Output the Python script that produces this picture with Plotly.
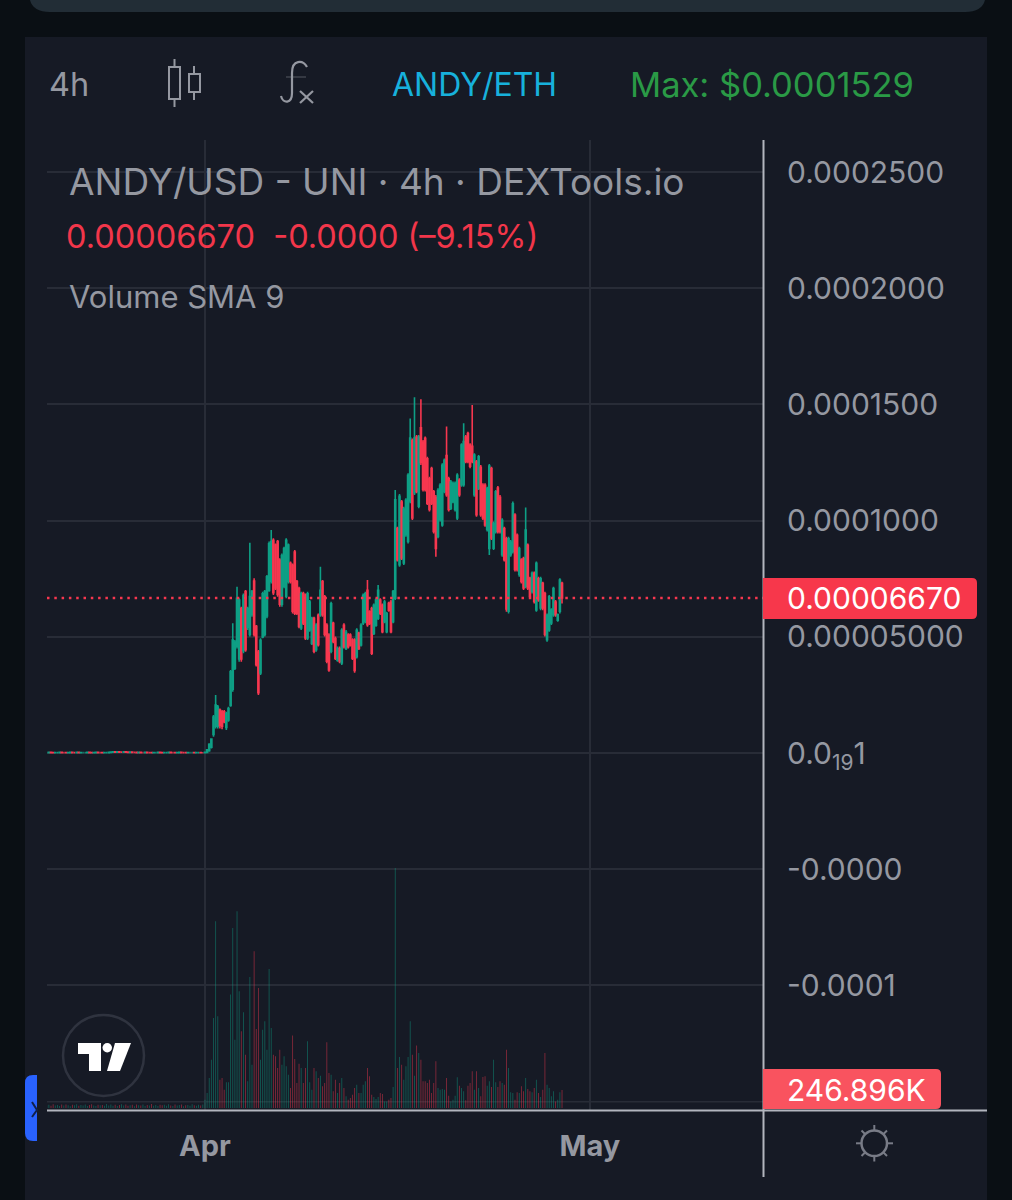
import pandas as pd
import plotly.graph_objects as go

# prices are in units of 0.00001 USD, volumes in thousands
pre_open = [0.02, 0.02, 0.03, 0.02, 0.01, 0.02, 0.02, 0.03, 0.02, 0.02, 0.01, 0.02, 0.03, 0.02, 0.02,
            0.03, 0.01, 0.02, 0.02, 0.02, 0.03, 0.02, 0.01, 0.02, 0.03, 0.02, 0.02, 0.01, 0.02, 0.02,
            0.03, 0.04, 0.05, 0.04, 0.05, 0.04, 0.04, 0.05, 0.04, 0.03, 0.04, 0.03, 0.03, 0.02, 0.03,
            0.02, 0.02, 0.03, 0.02, 0.02, 0.01, 0.02, 0.02, 0.03, 0.02, 0.01, 0.02, 0.02, 0.03, 0.02,
            0.02, 0.01, 0.02, 0.03, 0.02, 0.02, 0.01, 0.02, 0.02, 0.02, 0.01, 0.02, 0.02, 0.01]
pre_close = [0.02, 0.03, 0.02, 0.01, 0.02, 0.02, 0.03, 0.02, 0.02, 0.01, 0.02, 0.03, 0.02, 0.02, 0.03,
             0.01, 0.02, 0.02, 0.02, 0.03, 0.02, 0.01, 0.02, 0.03, 0.02, 0.02, 0.01, 0.02, 0.02, 0.03,
             0.04, 0.05, 0.04, 0.05, 0.04, 0.04, 0.05, 0.04, 0.03, 0.04, 0.03, 0.03, 0.02, 0.03, 0.02,
             0.02, 0.03, 0.02, 0.02, 0.01, 0.02, 0.02, 0.03, 0.02, 0.01, 0.02, 0.02, 0.03, 0.02, 0.02,
             0.01, 0.02, 0.03, 0.02, 0.02, 0.01, 0.02, 0.02, 0.02, 0.01, 0.02, 0.02, 0.01, 0.01]
pre_volume = [38, 44, 30, 52, 36, 41, 28, 47, 33, 50, 39, 26, 45, 37, 53, 31, 42, 35, 48, 29,
              40, 51, 34, 27, 46, 38, 43, 30, 55, 36, 49, 32, 44, 28, 41, 52, 35, 47, 30, 39,
              45, 26, 50, 37, 33, 48, 29, 42, 36, 54, 31, 40, 27, 46, 38, 44, 30, 51, 35, 28,
              47, 33, 41, 49, 26, 37, 43, 32, 52, 39, 30, 45, 36, 48]

opens = [0.01, 0.03, 0.10, 0.25, 0.80, 1.15, 1.15, 1.85, 1.78, 1.78, 1.10, 1.42, 2.05, 2.75, 3.65, 4.60,
         4.05, 6.22, 4.40, 6.95, 5.40, 5.10, 5.95, 7.40, 5.45, 4.35, 3.45, 5.00, 5.10, 5.90, 7.00, 7.40,
         9.15, 8.95, 9.10, 8.30, 6.40, 7.18, 6.75, 7.38, 8.16, 8.08, 8.65, 7.38, 7.08, 5.38, 6.86, 6.80,
         4.95, 5.30, 4.72, 5.80, 4.45, 5.93, 5.95, 7.38, 6.72, 5.50, 5.08, 4.38, 5.58, 4.93, 4.00, 4.50,
         3.88, 5.50, 4.50, 5.08, 5.08, 4.86, 4.86, 4.15, 5.15, 4.65, 5.60, 5.66, 7.00, 6.08, 6.22, 5.15,
         5.50, 5.80, 6.58, 6.36, 5.65, 5.22, 6.44, 6.50, 5.65, 6.66, 9.66, 8.10, 10.80, 8.18, 9.40, 9.10,
         10.85, 13.45, 11.20, 13.60, 10.62, 14.00, 13.38, 13.54, 12.66, 11.80, 12.24, 11.24, 11.00, 9.32,
         10.05, 9.82, 11.26, 12.80, 11.80, 10.54, 10.82, 10.48, 10.12, 11.74, 11.55, 11.55, 13.60, 13.75,
         13.25, 13.20, 11.12, 12.52, 11.40, 12.30, 11.52, 11.52, 9.62, 8.80, 12.24, 8.82, 9.54, 11.40,
         11.00, 8.54, 9.66, 9.22, 6.10, 8.54, 8.68, 10.24, 9.37, 7.68, 8.30, 8.37, 7.18, 8.94, 7.52, 6.95,
         7.73, 6.16, 7.50, 6.24, 7.30, 6.86, 4.88, 5.30, 5.60, 5.95, 6.50, 5.72, 6.10, 7.30]
highs = [0.04, 0.16, 0.42, 0.63, 1.64, 2.50, 2.07, 1.92, 1.85, 1.85, 1.78, 1.99, 3.57, 5.58, 4.86, 7.16,
         6.66, 6.30, 6.87, 7.02, 6.30, 9.05, 7.02, 7.52, 5.51, 4.43, 4.94, 6.94, 7.02, 7.66, 9.10, 9.60,
         9.24, 9.02, 9.17, 8.38, 8.59, 8.88, 9.24, 9.02, 8.24, 8.16, 8.74, 7.45, 7.16, 6.94, 6.94, 6.87,
         6.94, 6.59, 5.87, 5.87, 5.58, 6.01, 8.02, 7.45, 6.80, 5.58, 5.15, 6.51, 5.65, 5.01, 4.58, 4.58,
         5.37, 5.58, 5.29, 5.15, 5.15, 4.94, 4.94, 5.37, 5.22, 5.58, 6.87, 6.94, 7.45, 6.15, 6.30, 6.44,
         6.66, 7.23, 6.66, 6.44, 6.59, 6.08, 6.51, 6.59, 7.02, 11.32, 9.74, 11.15, 10.89, 10.60, 10.96, 12.04,
         14.40, 13.54, 15.31, 13.69, 13.69, 15.22, 13.47, 13.62, 12.75, 11.89, 12.32, 11.32, 11.10, 11.39,
         11.61, 12.47, 12.68, 14.05, 11.89, 11.75, 11.68, 11.68, 12.04, 11.82, 13.33, 14.19, 13.69, 13.83,
         13.33, 14.98, 12.90, 12.61, 12.83, 12.40, 11.61, 11.61, 11.46, 12.44, 12.32, 9.96, 11.32, 11.49,
         11.10, 10.10, 9.74, 9.31, 9.31, 9.17, 10.82, 10.32, 9.45, 8.88, 8.38, 8.45, 10.57, 9.02, 7.59, 7.81,
         7.81, 8.24, 7.59, 7.59, 7.37, 6.94, 6.01, 6.80, 6.23, 7.16, 6.59, 6.01, 7.52, 7.37]
lows = [0.00, 0.01, 0.06, 0.20, 0.70, 1.06, 1.06, 1.06, 1.02, 1.28, 0.99, 1.35, 1.99, 2.64, 3.57, 4.50,
        3.93, 3.93, 4.29, 4.36, 5.29, 5.01, 5.87, 5.01, 3.72, 2.50, 3.36, 4.94, 5.01, 5.80, 6.94, 7.30,
        6.80, 7.02, 6.73, 6.30, 6.30, 7.09, 6.66, 7.30, 7.30, 6.01, 5.94, 5.94, 5.37, 5.29, 5.51, 4.86,
        4.86, 5.22, 4.65, 4.29, 4.36, 4.58, 5.87, 5.87, 5.01, 3.86, 3.50, 4.29, 4.72, 4.00, 3.93, 3.86,
        3.79, 4.50, 4.43, 4.50, 4.58, 4.00, 3.46, 4.07, 4.43, 4.58, 5.51, 5.58, 5.44, 5.51, 4.22, 5.08,
        5.44, 5.72, 5.94, 5.15, 5.58, 5.15, 6.08, 5.15, 5.58, 6.59, 8.24, 8.02, 8.31, 8.09, 9.31, 9.02,
        10.75, 10.03, 11.10, 11.18, 10.53, 12.40, 11.25, 11.25, 10.67, 10.39, 10.67, 9.45, 8.45, 9.24,
        9.96, 9.74, 11.18, 11.03, 10.39, 10.46, 10.75, 10.39, 10.03, 11.03, 11.46, 11.46, 12.47, 12.47,
        12.25, 12.47, 11.03, 10.17, 11.32, 10.17, 10.03, 9.74, 9.53, 8.52, 9.17, 8.74, 9.45, 9.45,
        9.45, 8.45, 8.24, 6.08, 6.01, 8.45, 8.59, 7.81, 7.81, 7.59, 7.30, 7.02, 7.09, 7.02, 6.66, 6.87,
        6.44, 6.08, 6.51, 6.15, 6.15, 5.01, 4.79, 5.22, 5.51, 5.87, 5.87, 5.65, 6.01, 6.44]
closes = [0.03, 0.14, 0.38, 0.60, 1.55, 2.07, 1.98, 1.20, 1.15, 1.35, 1.70, 1.92, 3.50, 4.86, 4.78, 6.66,
          6.58, 4.05, 6.78, 4.45, 6.22, 6.73, 6.95, 5.10, 3.80, 2.60, 4.85, 6.85, 6.95, 7.58, 9.00, 9.10,
          6.90, 7.10, 6.82, 6.40, 8.50, 8.80, 9.15, 8.95, 7.38, 6.10, 6.02, 6.02, 5.45, 6.85, 5.60, 4.95,
          6.85, 6.50, 5.80, 4.38, 5.50, 4.66, 7.00, 5.95, 5.10, 3.95, 3.58, 6.42, 4.80, 4.08, 4.50, 3.94,
          5.28, 4.58, 5.20, 4.58, 4.65, 4.08, 3.55, 5.28, 4.50, 5.50, 6.78, 6.85, 5.52, 5.58, 4.30, 6.36,
          6.58, 7.00, 6.02, 5.22, 6.50, 6.00, 6.15, 5.22, 6.95, 10.90, 8.32, 11.05, 8.40, 10.50, 10.88, 11.95,
          13.55, 10.12, 13.55, 11.26, 13.60, 12.50, 11.34, 11.34, 10.75, 10.48, 10.75, 9.54, 8.80, 11.30,
          11.52, 12.38, 12.60, 11.12, 10.48, 11.66, 11.60, 11.60, 11.95, 11.12, 13.25, 13.40, 12.55, 12.55,
          12.34, 12.55, 12.82, 10.26, 12.75, 10.26, 10.12, 9.82, 11.38, 12.35, 9.26, 9.88, 11.24, 9.54,
          9.54, 10.02, 8.32, 6.20, 9.22, 9.08, 10.72, 7.90, 7.90, 8.80, 7.38, 7.10, 9.60, 7.10, 6.74, 7.73,
          6.52, 8.16, 6.60, 7.50, 6.24, 5.10, 5.93, 6.72, 6.15, 7.08, 5.95, 5.95, 7.44, 6.67]
volumes = [114, 205, 411, 663, 1234, 2559, 1257, 388, 411, 251, 352, 352, 1554, 2468, 937, 2696,
           1600, 1051, 1312, 731, 366, 1796, 594, 2148, 1083, 1645, 663, 1074, 1188, 800, 1906, 1097,
           731, 708, 548, 800, 594, 708, 571, 457, 274, 992, 672, 343, 608, 548, 343, 548,
           914, 352, 251, 548, 503, 411, 443, 297, 343, 900, 480, 457, 229, 388, 206, 343,
           411, 274, 160, 114, 137, 183, 274, 320, 206, 206, 320, 366, 548, 434, 183, 151,
           123, 151, 206, 192, 91, 91, 114, 137, 288, 3290, 548, 699, 594, 388, 571, 699,
           1188, 731, 443, 855, 754, 663, 366, 366, 343, 388, 206, 343, 640, 274, 251, 260,
           251, 411, 169, 91, 114, 169, 420, 306, 274, 229, 105, 306, 343, 503, 251, 503,
           274, 160, 425, 434, 306, 366, 288, 663, 352, 288, 366, 343, 320, 800, 548, 215,
           206, 114, 215, 206, 297, 229, 411, 260, 229, 215, 274, 388, 206, 151, 251, 754,
           320, 274, 160, 229, 91, 114, 215, 247]

tick_vals = [25, 20, 15, 10, 5, 0, -5, -10]
tick_text = ["0.0002500", "0.0002000", "0.0001500", "0.0001000", "0.00005000",
             "0.0<sub>19</sub>1", "-0.0000", "-0.0001"]
hidden_grid = -15  # its label sits behind the volume tag
last_price = 6.67

BG = "#161a25"
OUTER = "#0a0f14"
GRID = "#282c37"
AXIS = "#b2b5be"
MUTED = "#9598a1"
UP = "#0e9f85"
DOWN = "#f7374f"
UP_VOL = "rgba(14,159,133,0.5)"
DOWN_VOL = "rgba(247,55,79,0.5)"
FONT = "Inter"
W, H = 1012, 1200


def fx(x):
    return x / W


def fy(y):
    return 1 - y / H


def p(x, y):
    return f"{fx(x):.5f} {fy(y):.5f}"


def paper_shape(path, fill=None, line=None, width=0):
    return dict(type="path", xref="paper", yref="paper", path=path, fillcolor=fill,
                line=dict(color=line, width=width), layer="above")


def seg(x0, y0, x1, y1, color, width=2, layer="above"):
    return dict(type="line", xref="paper", yref="paper", x0=fx(x0), y0=fy(y0), x1=fx(x1), y1=fy(y1),
                line=dict(color=color, width=width), layer=layer)


def rect(x0, y0, x1, y1, fill, line=None, width=0, layer="below"):
    return dict(type="rect", xref="paper", yref="paper", x0=fx(x0), y0=fy(y0), x1=fx(x1), y1=fy(y1),
                fillcolor=fill, line=dict(color=line, width=width), layer=layer)


def round_right(x0, y0, x1, y1, r):
    return (f"M {p(x0, y0)} L {p(x1 - r, y0)} Q {p(x1, y0)} {p(x1, y0 + r)} "
            f"L {p(x1, y1 - r)} Q {p(x1, y1)} {p(x1 - r, y1)} L {p(x0, y1)} Z")


def round_left(x0, y0, x1, y1, r):
    return (f"M {p(x1, y0)} L {p(x0 + r, y0)} Q {p(x0, y0)} {p(x0, y0 + r)} "
            f"L {p(x0, y1 - r)} Q {p(x0, y1)} {p(x0 + r, y1)} L {p(x1, y1)} Z")


def label(x, y, text, size, color):
    return dict(xref="paper", yref="paper", x=fx(x), y=fy(y), text=text, showarrow=False,
                xanchor="left", yanchor="middle", align="left",
                font=dict(family=FONT, size=size, color=color))


all_open = pre_open + opens
all_close = pre_close + closes
all_high = [max(a, b) for a, b in zip(pre_open, pre_close)] + highs
all_low = [min(a, b) for a, b in zip(pre_open, pre_close)] + lows
all_volume = pre_volume + volumes
dates = pd.date_range(end="2024-04-28 20:00", periods=len(all_open), freq="4h")
vol_colors = [UP_VOL if c >= o else DOWN_VOL for o, c in zip(all_open, all_close)]

fig = go.Figure()
fig.add_trace(go.Bar(x=dates, y=all_volume, marker=dict(color=vol_colors, line=dict(width=0)),
                     yaxis="y2", hoverinfo="skip", showlegend=False))
fig.add_trace(go.Candlestick(x=dates, open=all_open, high=all_high, low=all_low, close=all_close,
                             increasing=dict(line=dict(color=UP, width=1.6), fillcolor=UP),
                             decreasing=dict(line=dict(color=DOWN, width=1.6), fillcolor=DOWN),
                             whiskerwidth=0, hoverinfo="skip", showlegend=False))

shapes = [
    rect(25, 37, 987, 1200, BG),
    dict(type="path", xref="paper", yref="paper", layer="below", fillcolor="#222d36", line=dict(width=0),
         path=f"M {p(30, 0)} Q {p(33, 12)} {p(50, 12)} L {p(965, 12)} Q {p(982, 12)} {p(985, 0)} Z"),
    dict(type="line", xref="paper", yref="y", x0=fx(47), x1=fx(763), y0=hidden_grid, y1=hidden_grid,
         line=dict(color=GRID, width=1.5), layer="below"),
    dict(type="line", xref="paper", yref="y", x0=fx(47), x1=fx(763), y0=last_price, y1=last_price,
         line=dict(color=DOWN, width=2.5, dash="2.5px,4.8px"), layer="above"),
    # axis frame
    seg(47, 1110.5, 987, 1110.5, AXIS),
    seg(763.5, 140, 763.5, 1177, AXIS),
    # price tags
    paper_shape(round_right(763, 578, 977, 619, 5), fill="#f7374b"),
    paper_shape(round_right(763, 1069, 941, 1109, 5), fill="#f9535f"),
    # candle icon
    rect(169, 67, 180, 99, "rgba(0,0,0,0)", MUTED, 2, "above"),
    seg(174.5, 59, 174.5, 67, MUTED), seg(174.5, 99, 174.5, 107, MUTED),
    rect(189, 74, 200, 92, "rgba(0,0,0,0)", MUTED, 2, "above"),
    seg(194, 66, 194, 74, MUTED), seg(194, 92, 194, 100, MUTED),
    # fx icon
    paper_shape(f"M {p(307, 67)} C {p(303, 60)} {p(292, 59)} {p(292, 73)} L {p(292, 93)} "
                f"C {p(292, 104)} {p(283, 104)} {p(281, 96)}", line=MUTED, width=2.2),
    seg(286, 77, 306, 77, "rgba(149,152,161,0.5)", 1),
    seg(300, 91, 313, 103, MUTED, 2.2), seg(313, 91, 300, 103, MUTED, 2.2),
    # tradingview badge
    dict(type="circle", xref="paper", yref="paper", x0=fx(63), y0=fy(1096), x1=fx(144), y1=fy(1015),
         line=dict(color="#2f333f", width=2.5), fillcolor=BG, layer="above"),
    paper_shape(f"M {p(78, 1043)} L {p(101, 1043)} L {p(101, 1071)} L {p(89, 1071)} L {p(89, 1054)} "
                f"L {p(78, 1054)} Z", fill="white"),
    dict(type="circle", xref="paper", yref="paper", x0=fx(102.5), y0=fy(1052.5), x1=fx(112), y1=fy(1043),
         fillcolor="white", line=dict(width=0), layer="above"),
    paper_shape(f"M {p(115, 1043)} L {p(131, 1043)} L {p(120, 1071)} L {p(107, 1071)} Z", fill="white"),
    # collapse tab
    paper_shape(round_left(25, 1075, 37, 1141, 8), fill="#2962ff"),
    paper_shape(f"M {p(32, 1102)} L {p(37, 1110)} L {p(32, 1117)}", line="#10204a", width=2),
    # settings icon
    dict(type="circle", xref="paper", yref="paper", x0=fx(861.5), y0=fy(1156), x1=fx(887), y1=fy(1130.5),
         line=dict(color="#787b86", width=2.5), layer="above"),
    seg(874.3, 1125, 874.3, 1130, "#787b86"), seg(874.3, 1156.5, 874.3, 1161.5, "#787b86"),
    seg(856, 1143.3, 861, 1143.3, "#787b86"), seg(887.5, 1143.3, 893, 1143.3, "#787b86"),
    seg(861.5, 1130.5, 865, 1134, "#787b86"), seg(883.5, 1152.5, 887, 1156, "#787b86"),
    seg(887, 1130.5, 883.5, 1134, "#787b86"), seg(865, 1152.5, 861.5, 1156, "#787b86"),
]

annotations = [
    label(47, 84, "4h", 32.5, MUTED),
    label(390, 84, "ANDY/ETH", 32, "#17b1dc"),
    label(628, 84, "Max: $0.0001529", 34.5, "#2a9a46"),
    label(67, 182, "ANDY/USD - UNI · 4h · DEXTools.io", 37, MUTED),
    label(64, 236, "0.00006670  -0.0000 (–9.15%)", 32.5, "#f2364a"),
    label(67, 296, "Volume SMA 9", 31, MUTED),
    label(785, 598, "0.00006670", 30, "white"),
    label(785, 1090, "246.896K", 30, "white"),
]

fig.update_layout(
    width=W, height=H, autosize=False,
    margin=dict(l=0, r=0, t=0, b=0),
    paper_bgcolor=OUTER, plot_bgcolor="rgba(0,0,0,0)",
    showlegend=False, bargap=0.6,
    shapes=shapes, annotations=annotations,
    font=dict(family=FONT, color=MUTED),
    xaxis=dict(
        domain=[fx(47), fx(763)],
        range=["2024-03-19 16:30", "2024-05-14 12:00"],
        rangeslider=dict(visible=False),
        tickmode="array", tickvals=["2024-04-01", "2024-05-01"], ticktext=["<b>Apr</b>", "<b>May</b>"],
        tickfont=dict(family=FONT, size=29, color=MUTED),
        ticks="", ticklabelstandoff=16,
        showgrid=True, gridcolor=GRID, gridwidth=1.5, zeroline=False, showline=False,
        anchor="y",
    ),
    yaxis=dict(
        domain=[fy(1110), fy(140)],
        range=[-15.36, 26.38],
        tickmode="array", tickvals=tick_vals, ticktext=tick_text,
        tickfont=dict(family=FONT, size=30, color=MUTED),
        side="right", ticks="", ticklabelstandoff=23,
        showgrid=True, gridcolor=GRID, gridwidth=1.5, zeroline=False, showline=False,
        fixedrange=True,
    ),
    yaxis2=dict(
        domain=[fy(1110), fy(140)],
        range=[-27, 13262], overlaying="y", visible=False, fixedrange=True,
    ),
)

fig.write_html("out.html", config=dict(displayModeBar=False),
               post_script="document.body.style.margin='0';document.body.style.background='#0a0f14';")
